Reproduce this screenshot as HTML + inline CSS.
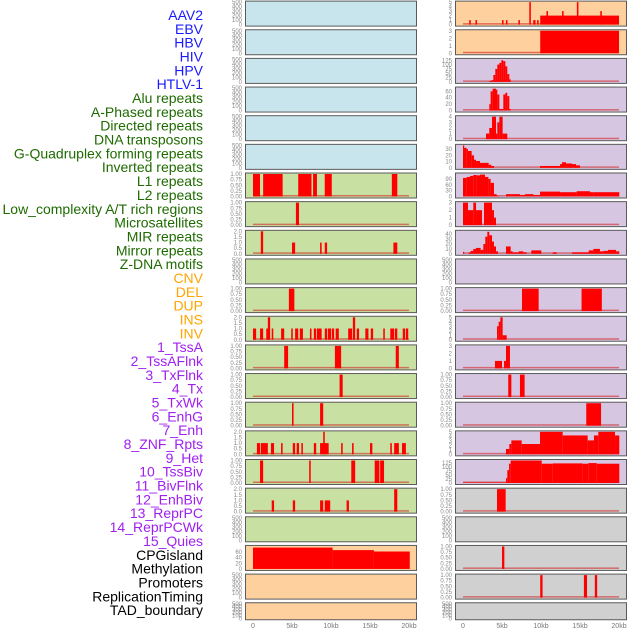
<!DOCTYPE html>
<html><head><meta charset="utf-8"><style>
body{margin:0;background:#fff;width:630px;height:630px;overflow:hidden}
svg{display:block}
</style></head><body>
<svg id="chart" width="630" height="630" xmlns="http://www.w3.org/2000/svg"></svg>
<script>
const trackLabels=["AAV2","EBV","HBV","HIV","HPV","HTLV-1","Alu repeats","A-Phased repeats","Directed repeats","DNA transposons","G-Quadruplex forming repeats","Inverted repeats","L1 repeats","L2 repeats","Low_complexity A/T rich regions","Microsatellites","MIR repeats","Mirror repeats","Z-DNA motifs","CNV","DEL","DUP","INS","INV","1_TssA","2_TssAFlnk","3_TxFlnk","4_Tx","5_TxWk","6_EnhG","7_Enh","8_ZNF_Rpts","9_Het","10_TssBiv","11_BivFlnk","12_EnhBiv","13_ReprPC","14_ReprPCWk","15_Quies","CPGisland","Methylation","Promoters","ReplicationTiming","TAD_boundary"];
const labelColors=["#1a1aff","#1a1aff","#1a1aff","#1a1aff","#1a1aff","#1a1aff","#1e6b00","#1e6b00","#1e6b00","#1e6b00","#1e6b00","#1e6b00","#1e6b00","#1e6b00","#1e6b00","#1e6b00","#1e6b00","#1e6b00","#1e6b00","#ffa500","#ffa500","#ffa500","#ffa500","#ffa500","#a020f0","#a020f0","#a020f0","#a020f0","#a020f0","#a020f0","#a020f0","#a020f0","#a020f0","#a020f0","#a020f0","#a020f0","#a020f0","#a020f0","#a020f0","#000","#000","#000","#000","#000"];
const leftBg=["b","b","b","b","b","b","g","g","g","g","g","g","g","g","g","g","g","g","g","o","o","o"];
const rightBg=["o","o","p","p","p","p","p","p","p","p","p","p","p","p","p","p","p","y","y","y","y","y"];
const leftMax=[0,0,0,0,0,0,1,1,2,0,1,2,1,1,1,2,1,2,0,80,0,0];
const rightMax=[5,3,130,70,4,36,115,3,46,0,1,5,3,1,1,5,140,1,0,1,1,0];
const leftSegs=[[],[],[],[],[],[],
[[0,0.9,1],[1.3,3.8,1],[5.8,7.5,1],[7.7,8.2,1],[9.2,10.1,1],[17.8,18.5,1]],
[[5.5,5.9,1]],
[[1.0,1.3,2],[5.0,5.4,1],[8.6,8.8,1],[9.2,9.5,1],[18.0,18.5,1]],
[],
[[4.6,5.3,1]],
[[0,0.4,1],[0.9,1.3,1],[1.7,2.0,1],[1.9,2.2,2],[2.4,2.6,1],[3.6,4.0,1],[4.9,5.1,1],[5.4,5.8,1],[6.0,6.4,1],[7.3,7.5,1],[7.8,8.1,1],[8.2,8.8,1],[9.2,9.5,1],[9.6,10.0,1],[10.1,10.4,1],[10.6,11.0,1],[12.2,12.7,1],[12.8,13.1,2],[13.3,13.6,1],[14.4,14.8,1],[15.1,15.4,1],[16.7,16.9,1],[17.6,18.1,1],[18.2,18.5,1],[19.2,19.5,1],[19.6,19.9,1]],
[[4.0,4.5,1],[10.5,11.3,1],[18.3,18.7,1]],
[[11.1,11.5,1]],
[[5.0,5.2,1],[8.6,9.0,1]],
[[0.5,0.9,1],[1.0,1.9,1],[2.3,2.7,1],[3.6,3.8,1],[5.1,5.4,1],[5.6,5.9,1],[6.2,6.4,1],[7.8,8.1,1],[8.6,9.7,1],[9.0,9.2,2],[11.3,11.5,1],[12.7,12.9,1],[15.0,15.3,1],[17.6,17.8,1],[18.1,18.7,1],[19.1,19.6,1]],
[[0.9,1.3,1],[7.2,7.4,1],[12.6,13.1,1],[15.6,16.2,1],[16.3,16.8,1]],
[[2.4,2.7,1],[5.1,5.4,1],[8.6,9.0,1],[9.2,9.9,1],[12.0,12.3,1],[18.1,18.5,2]],
[],
[[0,10.2,76],[10.2,15.5,67],[15.5,20.1,62]],
[],[]];
const rightSegs=[
[[0.8,1.0,1],[1.6,1.8,1],[5.0,5.2,1],[5.5,5.7,1],[7.1,7.3,1],[8.5,8.7,5],[9.0,9.3,1],[9.5,9.7,1],[9.9,20.0,2],[10.7,10.9,3],[12.7,12.9,3],[14.6,14.8,5],[17.6,17.8,3]],
[[9.9,20.0,3]],
[[3.37,3.63,5],[3.63,3.89,10],[3.89,4.14,40],[4.14,4.40,75],[4.40,4.66,100],[4.66,4.91,110],[4.91,5.17,125],[5.17,5.43,120],[5.43,5.68,90],[5.68,5.94,45],[5.94,6.11,15]],
[[3.37,3.54,20],[3.54,3.80,60],[3.80,4.23,68],[4.23,4.40,65],[4.40,4.66,50],[4.66,5.17,5],[5.17,5.43,50],[5.43,5.68,55],[5.68,5.94,45],[5.94,6.11,5]],
[[2.95,3.37,1],[3.37,3.72,2],[3.72,4.23,4],[4.23,4.40,1],[4.40,4.66,3],[4.66,5.08,4],[5.08,5.68,1]],
[[0,0.13,36],[0.13,0.47,32],[0.47,0.64,30],[0.64,1.11,27],[1.11,1.41,20],[1.41,1.67,13],[1.67,2.18,11],[2.18,3.29,8],[3.29,3.63,5],[3.63,3.97,3],[9.87,12.44,3],[12.44,12.69,6],[12.69,13.21,9],[13.21,13.97,7],[13.97,14.49,6],[14.49,15.0,4]],
[[0,0.47,95],[0.47,0.9,100],[0.9,1.32,105],[1.32,1.75,110],[1.75,2.18,108],[2.18,2.82,112],[2.82,3.25,100],[3.25,3.54,90],[3.54,3.97,70],[3.97,4.31,12],[4.31,4.66,3],[5.51,6.24,12],[6.24,7.31,12],[7.31,7.95,8],[7.95,9.02,12],[9.02,9.87,8],[9.87,12.44,25],[12.44,14.57,22],[14.57,16.28,27],[16.28,16.71,22],[16.71,20.04,22]],
[[0,0.64,3],[0.64,1.32,2],[1.32,1.67,3],[1.67,2.44,2],[2.69,3.72,3],[3.72,3.97,2],[3.97,4.23,1]],
[[0,0.13,4],[0.73,0.98,3],[0.98,1.32,6],[1.32,1.67,10],[1.67,2.26,12],[2.26,2.61,8],[2.61,2.86,20],[2.86,3.12,35],[3.12,3.37,45],[3.37,3.72,38],[3.72,3.97,25],[3.97,4.23,15],[4.23,4.49,5],[5.51,6.11,15],[6.11,6.37,5],[6.37,7.14,3],[7.14,7.73,5],[7.73,8.16,3],[8.76,10.04,7],[11.5,12.01,3],[13.97,16.11,3],[16.11,16.71,7],[16.71,17.56,10],[17.56,17.99,5],[17.99,18.59,6],[18.59,19.62,8],[19.62,20.04,5]],
[],
[[7.56,9.7,1],[15.2,17.8,1]],
[[4.36,4.57,3],[4.57,4.79,4],[4.79,5.08,5],[5.08,5.6,1]],
[[4.1,5.0,1],[5.26,5.51,1],[5.51,6.02,3]],
[[5.8,6.2,1],[7.3,7.9,1]],
[[15.8,17.7,1]],
[[5.51,5.94,1.2],[5.94,6.2,2.3],[6.2,7.52,3.1],[7.52,9.87,2.3],[9.87,12.78,5],[12.78,15.98,4.2],[15.98,16.79,3.1],[16.79,17.35,4.2],[17.35,19.49,5],[19.49,20.04,4.2]],
[[0,5.51,3],[5.51,5.68,30],[5.68,5.9,80],[5.9,6.11,120],[6.11,10.09,140],[10.09,11.5,120],[11.5,15.34,122],[15.34,16.07,120],[16.07,17.14,124],[17.14,20.04,120]],
[[4.36,5.47,1]],
[],
[[5.0,5.3,1]],
[[9.9,10.2,1],[15.5,15.9,1],[16.9,17.2,1]],
[]];
const xTicks=[0,5,10,15,20];
const xTickLabels=["0","5kb","10kb","15kb","20kb"];

const NS="http://www.w3.org/2000/svg";
const svg=document.getElementById('chart');
const bgColors={b:"#c8e4ec",g:"#c8e0a2",o:"#fed09e",p:"#d7c6e2",y:"#d0d0d0"};
function mk(t,a){const e=document.createElementNS(NS,t);for(const k in a)e.setAttribute(k,a[k]);return e;}
function rowTop(i){return 0.6+28.65*i;}
function rowH(i){return i===21?17:25;}
function ticksFor(m){
  if(m===0)return [[0,100,200,300,400,500],500,v=>String(v)];
  if(m===1)return [[0,0.25,0.5,0.75,1],1,v=>v.toFixed(2)];
  if(m===2)return [[0,0.5,1,1.5,2],2,v=>v.toFixed(1)];
  if(m===3)return [[0,1,2,3],3,v=>String(v)];
  if(m===4)return [[0,1,2,3,4],4,v=>String(v)];
  if(m===5)return [[0,1,2,3,4,5],5,v=>String(v)];
  if(m===36)return [[0,10,20,30],m,v=>String(v)];
  if(m===46)return [[0,10,20,30,40],m,v=>String(v)];
  if(m===70||m===80)return [[0,20,40,60],m,v=>String(v)];
  if(m===115)return [[0,30,60,90],m,v=>String(v)];
  return [[0,25,50,75,100,125],m,v=>String(v)];
}
function drawCol(side,x0,x1,dataX0,bgs,maxes,segs){
  const xs=kb=>dataX0+kb*7.8;
  for(let i=0;i<22;i++){
    const top=rowTop(i),h=rowH(i);
    const g=mk('g',{});
    
    
    svg.appendChild(g);
    const r=mk('rect',{x:x0+0.5,y:top+0.5,width:x1-x0,height:h,fill:bgColors[bgs[i]],stroke:"#5a5a5a","stroke-width":1});
    
    
    g.appendChild(r);
    const [tv,ym,fmt]=ticksFor(maxes[i]);
    const yb=top+h-1, yt=top+1.5;
    const ys=v=>yb-(v/ym)*(yb-yt);
    tv.forEach(v=>{
      const t=mk('text',{x:x0-3,y:ys(v)+2,'text-anchor':'end','font-size':6,fill:'#888','font-family':'Liberation Sans, sans-serif'});
      t.textContent=fmt(v);
      
      
      g.appendChild(t);
    });
    if(segs[i].length && !(side==='left'&&i===19)){
      const bl=mk('rect',{x:xs(0),y:yb-1.5,width:xs(20)-xs(0),height:1.5,fill:'rgba(210,40,40,0.6)'});
      
      
      g.appendChild(bl);
    }
    segs[i].forEach(s=>{
      const b=mk('rect',{x:xs(s[0]),y:ys(s[2]),width:Math.max(1.2,xs(s[1])-xs(s[0])),height:yb-ys(s[2]),fill:'#ff0000'});
      
      
      g.appendChild(b);
    });
  }
  xTicks.forEach((v,k)=>{
    const t=mk('text',{x:xs(v),y:628,'text-anchor':'middle','font-size':7,fill:'#777','font-family':'Liberation Sans, sans-serif'});
    t.textContent=xTickLabels[k];
    
    
    svg.appendChild(t);
  });
}
drawCol('left',245,416,253,leftBg,leftMax,leftSegs);
drawCol('right',455,626,463,rightBg,rightMax,rightSegs);
trackLabels.forEach((s,i)=>{
  const t=mk('text',{x:203,y:20+13.84*i,'text-anchor':'end','font-size':14,fill:labelColors[i],'font-family':'Liberation Sans, sans-serif'});
  t.textContent=s;
  
  
  svg.appendChild(t);
});
</script>
</body></html>
